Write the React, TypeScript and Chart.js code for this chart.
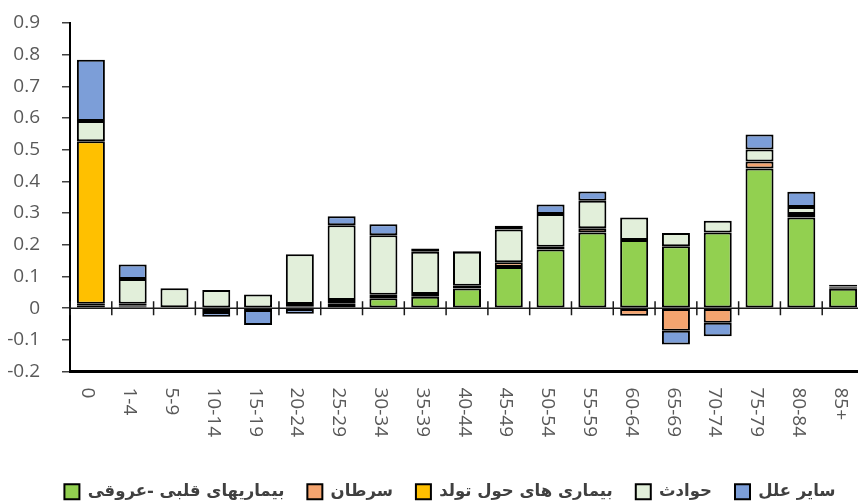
import React, { useEffect, useRef } from "react";
import { Chart, registerables } from "chart.js";

Chart.register(...registerables);

const categories = ["0", "1-4", "5-9", "10-14", "15-19", "20-24", "25-29", "30-34", "35-39", "40-44", "45-49", "50-54", "55-59", "60-64", "65-69", "70-74", "75-79", "80-84", "85+"];

const seriesNames = ["بیماریهای قلبی -عروقی", "سرطان", "بیماری های حول تولد", "حوادث", "سایر علل"];

const cardio = [0.009, 0.006, 0.003, 0.002, null, 0.006, 0.014, 0.031, 0.036, 0.062, 0.13, 0.185, 0.239, 0.215, 0.195, 0.239, 0.441, 0.286, 0.061];
const cancer = [0.005, 0.003, null, -0.012, -0.006, 0.004, 0.012, 0.011, 0.009, 0.009, 0.015, 0.009, 0.013, -0.024, -0.071, -0.046, 0.022, 0.011, 0.003];
const perinatal = [0.513, 0.005, null, null, null, 0.003, null, null, null, null, null, null, null, null, null, null, null, null, null];
const accidents = [0.064, 0.078, 0.06, 0.055, 0.043, 0.157, 0.236, 0.188, 0.133, 0.107, 0.103, 0.103, 0.087, 0.071, 0.042, 0.037, 0.038, 0.022, 0.004];
const other = [0.193, 0.046, null, -0.015, -0.047, -0.018, 0.028, 0.035, 0.01, 0.002, 0.012, 0.03, 0.029, null, -0.044, -0.043, 0.047, 0.048, 0.006];

const colors = ["#92D050", "#F4A46F", "#FFC000", "#E2EFDA", "#7C9ED8"];

const W = 870;
const H = 510;

const zeroLinePlugin = {
  id: "zeroLine",
  beforeDatasetsDraw(chart: any) {
    const { ctx, chartArea, scales } = chart;
    const x = scales.x;
    const y = scales.y;
    const y0 = y.getPixelForValue(0);
    const half = (x.getPixelForValue(1) - x.getPixelForValue(0)) / 2;
    ctx.save();
    ctx.strokeStyle = "#1a1a1a";
    ctx.lineWidth = 1.5;
    ctx.beginPath();
    ctx.moveTo(chartArea.left, y0);
    ctx.lineTo(chartArea.right, y0);
    for (let i = 0; i <= categories.length; i++) {
      const bx = x.getPixelForValue(0) - half + i * half * 2;
      ctx.moveTo(bx, y0 - 7);
      ctx.lineTo(bx, y0 + 7);
    }
    ctx.stroke();
    ctx.restore();
  },
};

const xLabelPlugin = {
  id: "xLabels",
  afterDraw(chart: any) {
    const { ctx, chartArea, scales } = chart;
    const x = scales.x;
    ctx.save();
    ctx.font = '19px "Open Sans", sans-serif';
    ctx.fillStyle = "#595959";
    ctx.textAlign = "left";
    ctx.textBaseline = "middle";
    categories.forEach((c, i) => {
      const px = x.getPixelForValue(i);
      ctx.save();
      ctx.translate(px - 3, chartArea.bottom + 16);
      ctx.rotate(Math.PI / 2);
      ctx.fillText(c, 0, 0);
      ctx.restore();
    });
    ctx.restore();
  },
};

// shift the legend box to the right so it sits where the reference has it
const legendShiftPlugin = {
  id: "legendShift",
  afterLayout(chart: any) {
    const lg = chart.legend;
    if (lg) {
      lg.left += 18;
      lg.right += 18;
    }
  },
};

export default function App() {
  const ref = useRef<HTMLCanvasElement | null>(null);

  useEffect(() => {
    if (!ref.current) return;
    const series = [cardio, cancer, perinatal, accidents, other];
    const chart = new Chart(ref.current, {
      type: "bar",
      data: {
        labels: categories,
        datasets: series.map((d, i) => ({
          label: seriesNames[i],
          data: d,
          backgroundColor: colors[i],
          borderColor: "#000000",
          borderWidth: 2,
          borderSkipped: false,
          categoryPercentage: 1,
          barPercentage: 0.67,
          stack: "s",
        })),
      },
      options: {
        responsive: false,
        devicePixelRatio: 1,
        animation: false,
        events: [],
        layout: { padding: { left: 0, right: 6, top: 23, bottom: 0 } },
        plugins: {
          tooltip: { enabled: false },
          legend: {
            position: "bottom",
            labels: {
              boxWidth: 15,
              boxHeight: 15,
              padding: 23,
              color: "#404040",
              font: { size: 16.5, weight: "bold", family: '"DejaVu Sans", sans-serif' },
            },
          },
        },
        scales: {
          x: {
            stacked: true,
            ticks: { display: false },
            grid: { display: false },
            border: { display: true, color: "#000", width: 3 },
            afterFit: (s: any) => {
              s.height = 89;
            },
          },
          y: {
            stacked: true,
            min: -0.2,
            max: 0.9,
            ticks: {
              stepSize: 0.1,
              padding: 22,
              color: "#595959",
              font: { size: 19, family: '"Open Sans", sans-serif' },
              callback: (v: any) => String(Number(Number(v).toFixed(1))),
            },
            grid: { display: true, drawOnChartArea: false, drawTicks: true, tickLength: 8, color: "#404040", lineWidth: 1.5 },
            border: { display: true, color: "#000", width: 2 },
            afterFit: (s: any) => {
              s.width = 70;
              s.paddingTop = 11;
              s.paddingBottom = 11;
            },
          },
        },
      },
      plugins: [zeroLinePlugin, xLabelPlugin, legendShiftPlugin],
    });
    return () => chart.destroy();
  }, []);

  return (
    <div style={{ position: "fixed", left: 0, top: 0, width: 858, height: 501, overflow: "hidden", background: "#fff" }}>
      <canvas ref={ref} width={W} height={H} style={{ position: "absolute", left: 0, top: 0, width: W, height: H }} />
    </div>
  );
}
